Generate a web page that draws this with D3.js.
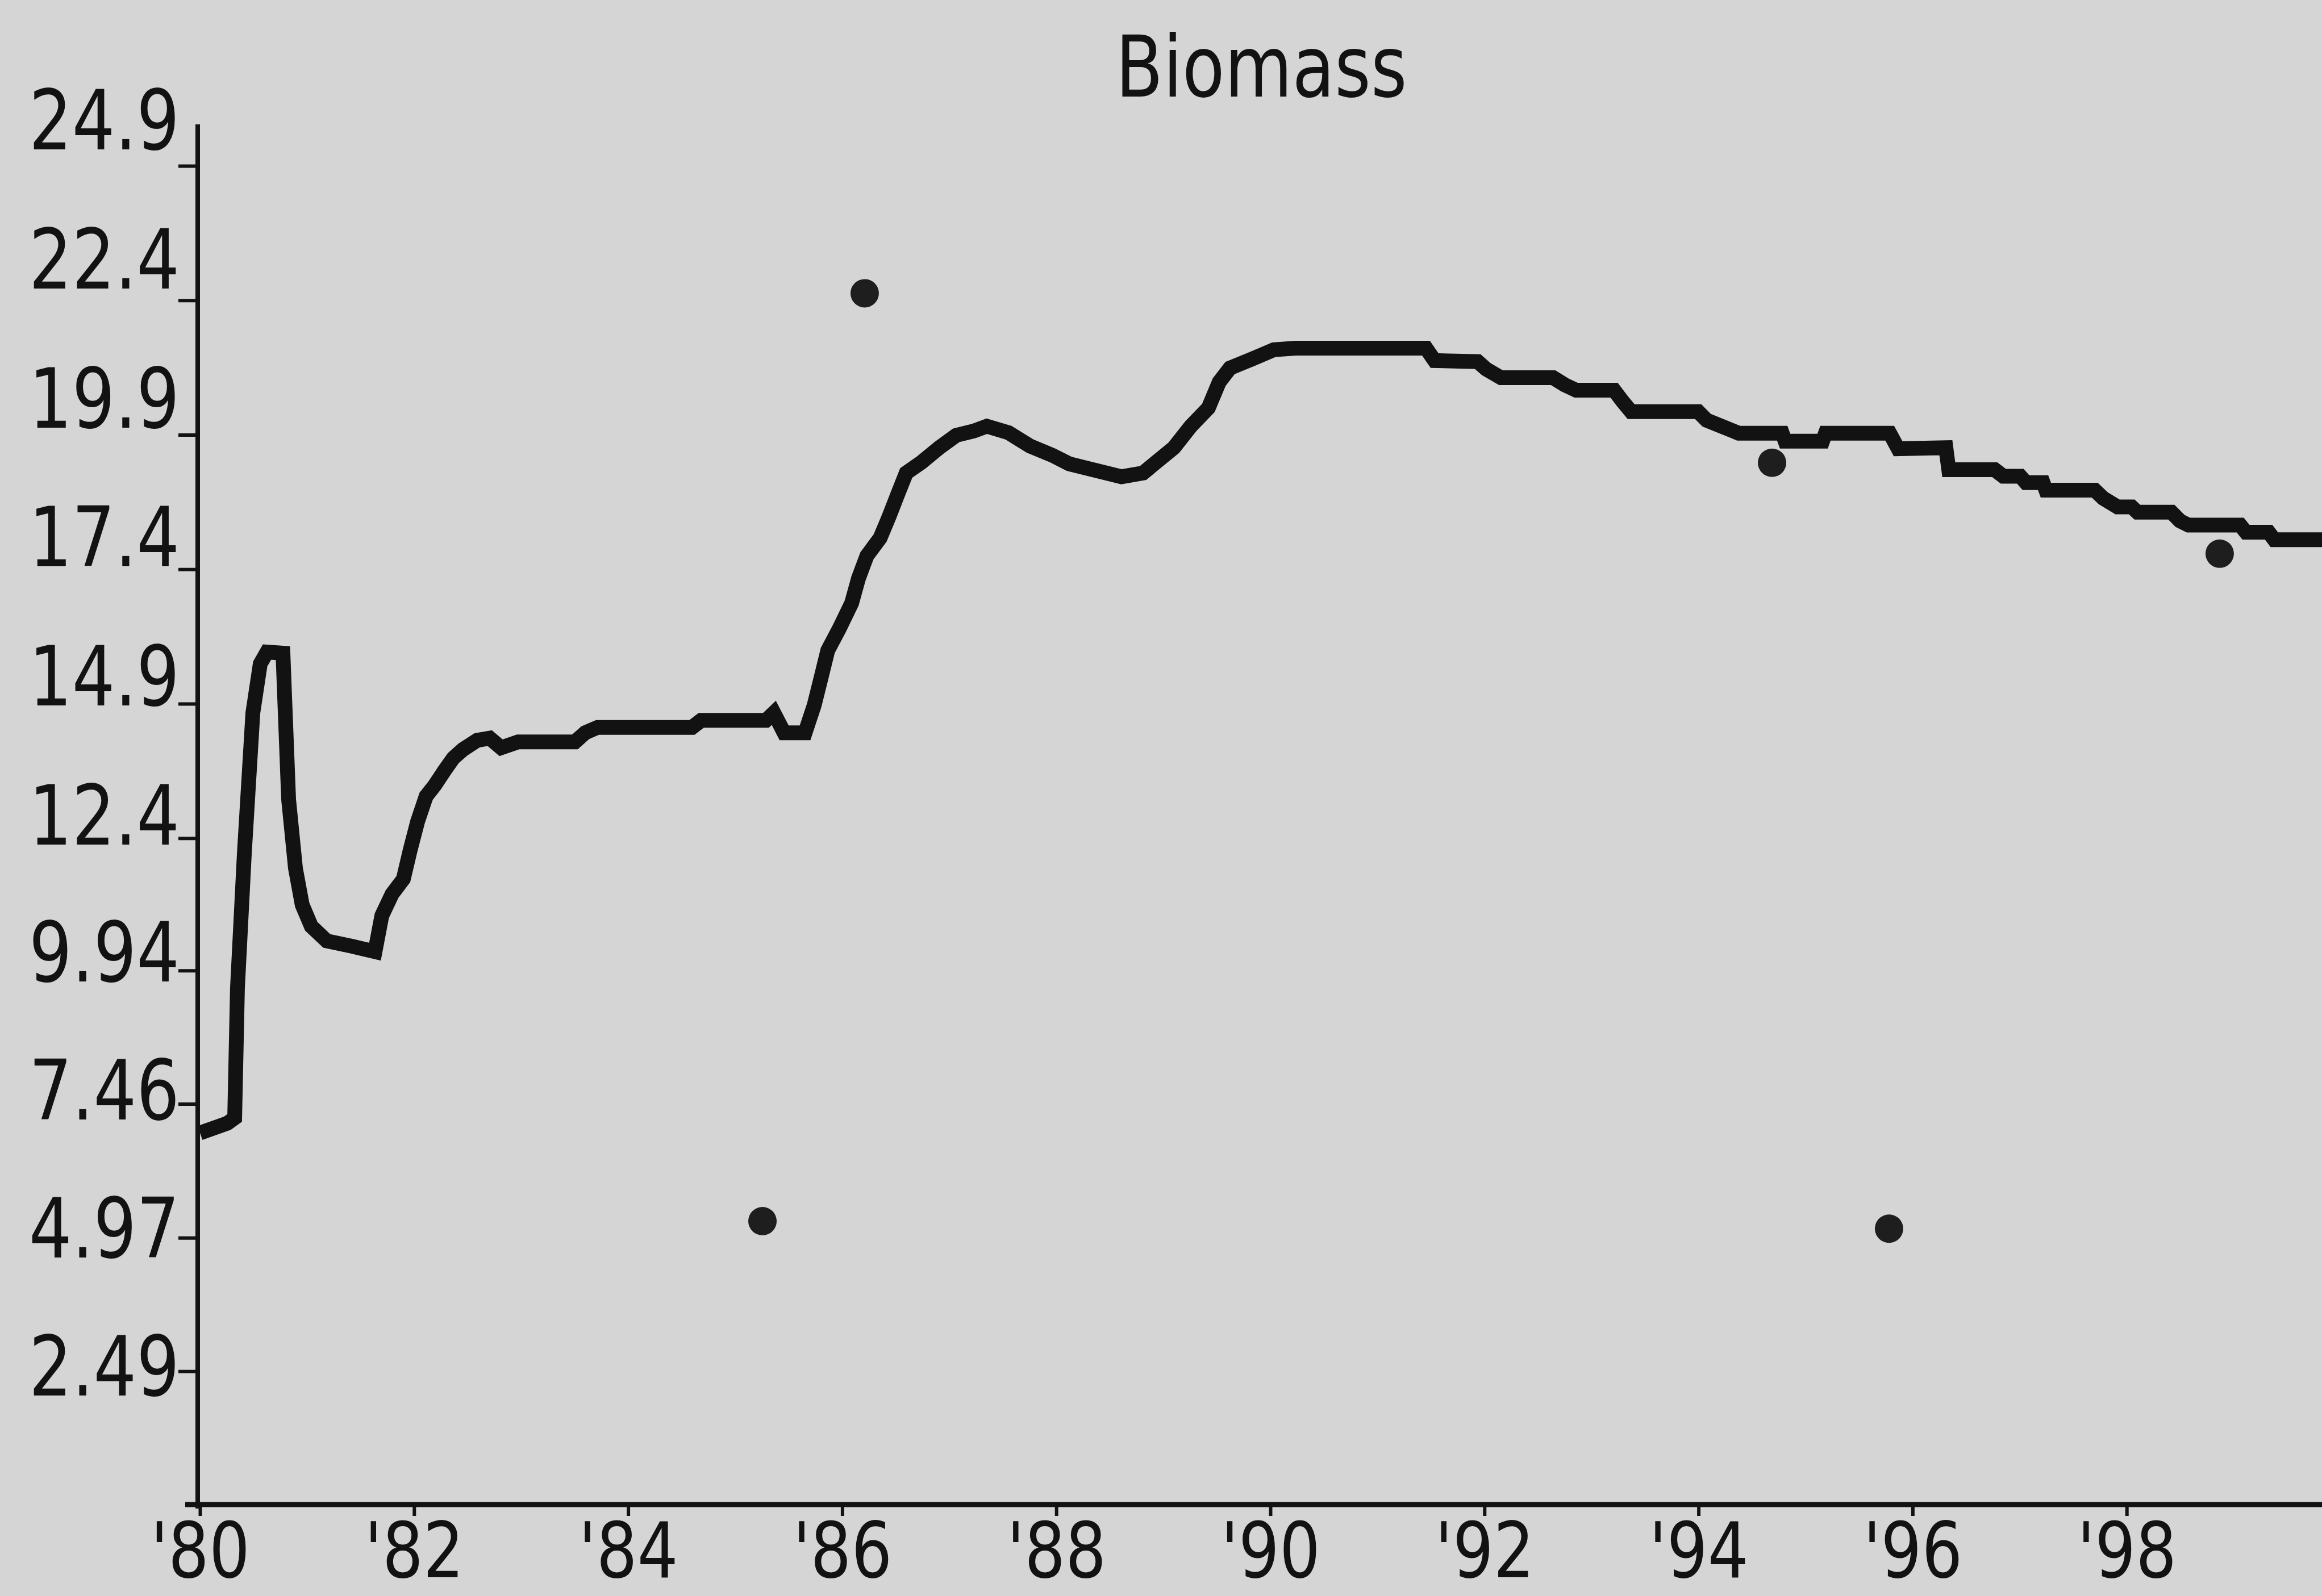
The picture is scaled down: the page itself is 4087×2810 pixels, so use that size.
<!DOCTYPE html>
<html>
<head>
<meta charset="utf-8">
<script src="https://cdn.jsdelivr.net/npm/d3@7"></script>
<style>
  html, body { margin: 0; padding: 0; background: #d5d5d5; }
  svg { display: block; }
</style>
</head>
<body>
<div id="chart"></div>
<script>
// model biomass curve
const years = [
  1980.000, 1980.255, 1980.324, 1980.350, 1980.414, 1980.494, 1980.563, 1980.626, 1980.775, 1980.828,
  1980.892, 1980.955, 1981.040, 1981.184, 1981.423, 1981.635, 1981.699, 1981.794, 1981.900, 1981.964,
  1982.033, 1982.113, 1982.192, 1982.282, 1982.367, 1982.458, 1982.590, 1982.707, 1982.813, 1982.972,
  1983.503, 1983.599, 1983.715, 1984.597, 1984.682, 1985.287, 1985.361, 1985.457, 1985.653, 1985.738,
  1985.807, 1985.865, 1985.971, 1986.088, 1986.152, 1986.231, 1986.354, 1986.438, 1986.518, 1986.598,
  1986.741, 1986.906, 1987.065, 1987.229, 1987.351, 1987.553, 1987.755, 1987.962, 1988.121, 1988.323,
  1988.609, 1988.811, 1988.933, 1989.098, 1989.257, 1989.421, 1989.522, 1989.623, 1989.830, 1990.032,
  1990.234, 1991.454, 1991.534, 1991.937, 1992.017, 1992.155, 1992.643, 1992.749, 1992.856, 1993.211,
  1993.291, 1993.370, 1993.997, 1994.076, 1994.214, 1994.374, 1994.782, 1994.809, 1995.159, 1995.186,
  1995.786, 1995.865, 1996.311, 1996.338, 1996.768, 1996.847, 1997.006, 1997.059, 1997.219, 1997.245,
  1997.702, 1997.781, 1997.914, 1998.047, 1998.100, 1998.418, 1998.498, 1998.578, 1999.061, 1999.114,
  1999.326, 1999.379, 1999.825
];
const biomass = [
  6.92, 7.10, 7.20, 9.61, 12.10, 14.73, 15.64, 15.86, 15.84, 13.12,
  11.84, 11.16, 10.76, 10.49, 10.39, 10.29, 10.96, 11.36, 11.64, 12.18,
  12.71, 13.18, 13.38, 13.65, 13.89, 14.05, 14.22, 14.26, 14.08, 14.19,
  14.19, 14.36, 14.46, 14.46, 14.59, 14.59, 14.73, 14.36, 14.36, 14.87,
  15.42, 15.89, 16.29, 16.77, 17.23, 17.65, 17.98, 18.38, 18.79, 19.19,
  19.39, 19.66, 19.89, 19.97, 20.06, 19.94, 19.69, 19.52, 19.36, 19.26,
  19.12, 19.19, 19.39, 19.66, 20.06, 20.40, 20.88, 21.14, 21.31, 21.48,
  21.51, 21.51, 21.28, 21.26, 21.12, 20.96, 20.96, 20.83, 20.73, 20.73,
  20.52, 20.33, 20.33, 20.17, 20.06, 19.93, 19.93, 19.78, 19.78, 19.93,
  19.93, 19.64, 19.66, 19.25, 19.25, 19.13, 19.13, 19.01, 19.01, 18.87,
  18.87, 18.72, 18.56, 18.56, 18.46, 18.46, 18.30, 18.22, 18.22, 18.09,
  18.09, 17.95, 17.95
];

// observed points
const obsYears = [1985.255, 1986.210, 1994.687, 1995.780, 1998.869];
const obsBiomass = [5.28, 22.53, 19.38, 5.14, 17.69];

// ticks
const yTickValues = [2.49, 4.97, 7.46, 9.94, 12.4, 14.9, 17.4, 19.9, 22.4, 24.9];
const yTickLabels = ["2.49", "4.97", "7.46", "9.94", "12.4", "14.9", "17.4", "19.9", "22.4", "24.9"];
const xTickValues = [1980, 1982, 1984, 1986, 1988, 1990, 1992, 1994, 1996, 1998];
const xTickLabels = ["'80", "'82", "'84", "'86", "'88", "'90", "'92", "'94", "'96", "'98"];

const width = 4087;
const height = 2810;
const margin = {top: 292, left: 352, bottom: 160};
const plotBottom = height - margin.bottom;

const svg = d3.select("#chart").append("svg")
  .attr("width", width)
  .attr("height", height);

svg.append("rect")
  .attr("width", width)
  .attr("height", height)
  .attr("fill", "#d5d5d5");

const xScale = d3.scaleLinear()
  .domain([1980, 2000])
  .range([margin.left, margin.left + 20 * 188.4]);

const yScale = d3.scaleLinear()
  .domain([0, 24.9])
  .range([plotBottom, margin.top]);

// labels on the screen are spread a bit wider than the ticks
const yLabelScale = d3.scaleLinear()
  .domain([0, 24.9])
  .range([2701, 263]);

const ink = "#121212";
const font = "'DejaVu Sans', 'Liberation Sans', sans-serif";

// title
svg.append("text")
  .attr("x", 2220)
  .attr("y", 170)
  .attr("text-anchor", "middle")
  .attr("textLength", 513)
  .attr("lengthAdjust", "spacingAndGlyphs")
  .style("font-family", font)
  .style("font-size", "150px")
  .style("fill", ink)
  .text("Biomass");

// y axis
const yAxis = svg.append("g")
  .attr("transform", `translate(${margin.left - 4}, 0)`)
  .call(d3.axisLeft(yScale).tickValues(yTickValues).tickSize(34).tickFormat(""));
yAxis.select(".domain").remove();
yAxis.selectAll(".tick line").attr("stroke", ink).attr("stroke-width", 6);

svg.append("line")
  .attr("x1", margin.left - 4)
  .attr("x2", margin.left - 4)
  .attr("y1", yScale(24.9) - 73)
  .attr("y2", plotBottom + 6)
  .attr("stroke", ink)
  .attr("stroke-width", 8);

svg.selectAll(".ylabel")
  .data(yTickValues)
  .enter().append("text")
  .attr("class", "ylabel")
  .attr("x", 316)
  .attr("y", d => yLabelScale(d))
  .attr("text-anchor", "end")
  .attr("textLength", 265)
  .attr("lengthAdjust", "spacingAndGlyphs")
  .style("font-family", font)
  .style("font-size", "146px")
  .style("fill", ink)
  .text((d, i) => yTickLabels[i]);

// x axis
const xAxis = svg.append("g")
  .attr("transform", `translate(0, ${plotBottom - 1})`)
  .call(d3.axisBottom(xScale).tickValues(xTickValues).tickSize(20).tickPadding(9)
    .tickFormat((d, i) => xTickLabels[i]));
xAxis.select(".domain").remove();
xAxis.selectAll(".tick line").attr("stroke", ink).attr("stroke-width", 6);
xAxis.selectAll(".tick text")
  .attr("dy", "0.73em")
  .attr("textLength", 175)
  .attr("lengthAdjust", "spacingAndGlyphs")
  .style("font-family", font)
  .style("font-size", "136px")
  .style("fill", ink);

svg.append("line")
  .attr("x1", 326)
  .attr("x2", width)
  .attr("y1", plotBottom - 1)
  .attr("y2", plotBottom - 1)
  .attr("stroke", ink)
  .attr("stroke-width", 9);

// model line
const line = d3.line()
  .x((d, i) => xScale(years[i]))
  .y(d => yScale(d));

svg.append("path")
  .datum(biomass)
  .attr("fill", "none")
  .attr("stroke", ink)
  .attr("stroke-width", 26)
  .attr("stroke-linejoin", "miter")
  .attr("d", line);

// observations
svg.selectAll(".obs")
  .data(obsBiomass)
  .enter().append("circle")
  .attr("class", "obs")
  .attr("cx", (d, i) => xScale(obsYears[i]))
  .attr("cy", d => yScale(d))
  .attr("r", 25)
  .style("fill", "#1e1e1e");
</script>
</body>
</html>
